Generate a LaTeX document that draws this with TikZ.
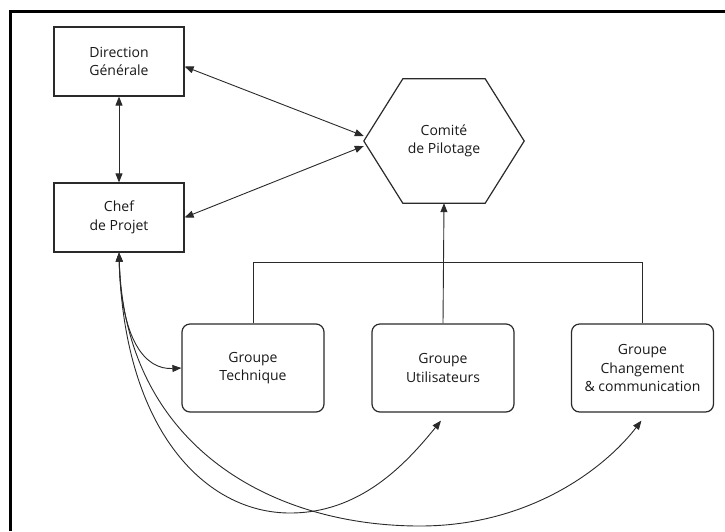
\documentclass[tikz,border=0pt]{standalone}
\usepackage{fontspec}
\setmainfont{Open Sans}
\usetikzlibrary{arrows.meta}
\definecolor{ink}{HTML}{2A2A2A}
\begin{document}
\begin{tikzpicture}[x=1pt,y=-1pt,
  every node/.style={font=\fontsize{14}{18.5}\selectfont, text=black!90, align=center, inner sep=0pt},
  sqbox/.style={draw=ink, line width=1.2pt, minimum width=130pt, minimum height=69pt},
  grpbox/.style={draw=ink, line width=1.2pt, rounded corners=8pt, minimum width=142pt, minimum height=88pt},
  link/.style={draw=ink, line width=0.9pt},
  tip/.style={-{Triangle[length=9pt,width=7pt]}},
  tips/.style={{Triangle[length=9pt,width=7pt]}-{Triangle[length=9pt,width=7pt]}}
]
\useasboundingbox (0,0) rectangle (725,531);

% frame
\draw[line width=3pt, black] (10,531) -- (10,11) -- (725,11);

% management boxes
\node[sqbox] (dg)   at (119,61.5)  {Direction\\Générale};
\node[sqbox] (chef) at (119,217.5) {Chef\\de Projet};

% steering committee (hexagon drawn on the node's bounding rectangle)
\node[minimum width=160pt, minimum height=124pt] (comite) at (444,141) {Comité\\de Pilotage};
\draw[ink, line width=1.2pt]
  (comite.west) -- ([xshift=39pt]comite.north west) -- ([xshift=-39pt]comite.north east)
  -- (comite.east) -- ([xshift=-39pt]comite.south east) -- ([xshift=39pt]comite.south west) -- cycle;

% working groups
\node[grpbox] (tech) at (253,368) {Groupe\\Technique};
\node[grpbox] (util) at (443,368) {Groupe\\Utilisateurs};
\node[grpbox] (chg)  at (642.5,368) {Groupe\\Changement\\\& communication};

% links between management and committee
\draw[link, tips] (dg.south) -- (chef.north);
\draw[link, tips] ([yshift=-5pt]dg.east) -- ([yshift=5pt]comite.west);
\draw[link, tips] (chef.east) -- ([yshift=-5pt]comite.west);

% groups report to the committee
\coordinate (busL) at (253,262);
\coordinate (busR) at (642.5,262);
\draw[link] (tech.north) -- (busL) -- (busR) -- (chg.north);
\draw[link, tip] (util.north) -- (comite.south);

% project lead to each group
\draw[link, tips] (chef.south) .. controls (121,340) and (145,370) .. (tech.west);
\coordinate (lowA) at (290,513);
\coordinate (lowB) at (420,526);
\draw[link, tips] (chef.south) .. controls (124,430) and (205,513) .. (lowA)
  .. controls (360,513) and (405,465) .. ([xshift=-2pt,yshift=-8pt]util.south);
\draw[link, tips] (chef.south) .. controls (125,445) and (270,526) .. (lowB)
  .. controls (530,526) and (605,468) .. ([xshift=-1pt,yshift=-8pt]chg.south);
\end{tikzpicture}
\end{document}
